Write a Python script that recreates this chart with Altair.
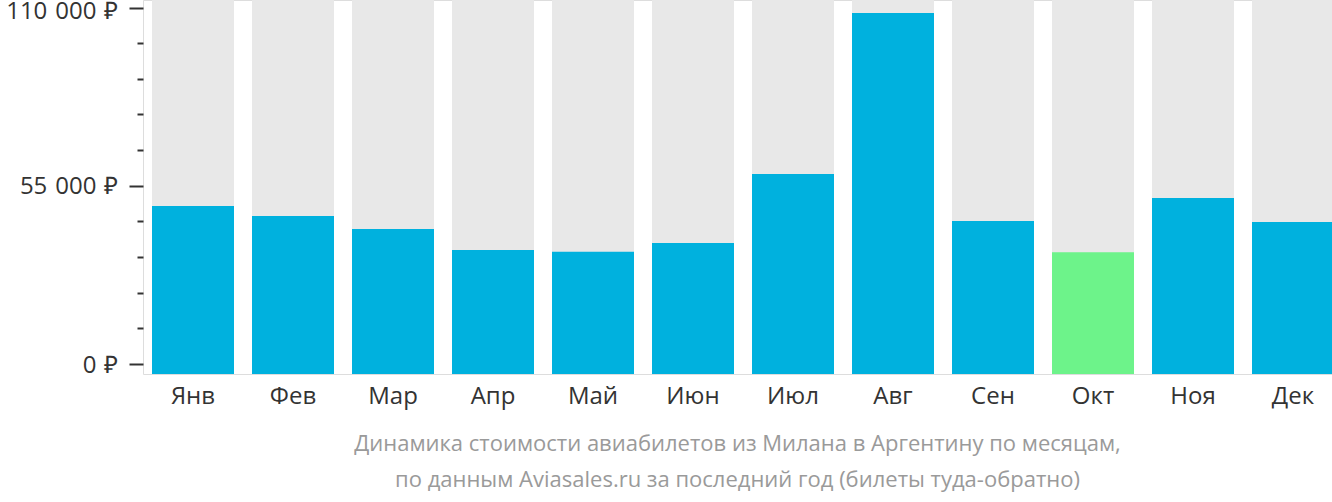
import altair as alt
import pandas as pd

months = ["Янв", "Фев", "Мар", "Апр", "Май", "Июн", "Июл", "Авг", "Сен", "Окт", "Ноя", "Дек"]
prices = [48750, 45650, 41650, 35200, 34600, 37350, 58600, 108300, 44100, 34450, 51200, 43800]
y_ticks = list(range(0, 110001, 11000))
caption = [
    "Динамика стоимости авиабилетов из Милана в Аргентину по месяцам,",
    "по данным Aviasales.ru за последний год (билеты туда-обратно)",
]

df = pd.DataFrame({"month": months, "price": prices})
df["cheapest"] = df["price"] == df["price"].min()

FONT = "Open Sans"
PLOT_H = 374

x_enc = alt.X(
    "month:N",
    sort=months,
    scale=alt.Scale(range=[0, 1200], paddingInner=0.18, paddingOuter=0.09),
    axis=alt.Axis(
        title=None, domain=False, ticks=False, labelAngle=0,
        labelFontSize=24, labelFont=FONT, labelColor="#333333", labelPadding=10,
    ),
)

base = alt.Chart(df)

bg = base.mark_rect(color="#e8e8e8").encode(
    x=x_enc, y=alt.value(0), y2=alt.value(PLOT_H)
)

bars = base.mark_rect().encode(
    x=x_enc,
    y=alt.Y(
        "price:Q",
        scale=alt.Scale(domain=[0, 110000], range=[364, 7.5], nice=False),
        axis=alt.Axis(
            title=None, domain=False, grid=False, values=y_ticks,
            labelExpr="datum.value == 0 ? '0\u2004₽' : (datum.value % 55000 == 0 ? format(datum.value / 1000, 'd') + '\u2004000\u2004₽' : '')",
            labelFontSize=24, labelFont=FONT, labelColor="#333333", labelPadding=11,
            labelOffset={"condition": {"test": "datum.value == 110000", "value": 4}, "value": 1},
            tickColor="#333333", tickWidth=2,
            tickSize={"condition": {"test": "datum.value % 55000 == 0", "value": 14}, "value": 6},
        ),
    ),
    y2=alt.value(PLOT_H),
    color=alt.condition("datum.cheapest", alt.value("#6df38a"), alt.value("#00b1de")),
)

chart = (
    alt.layer(bg, bars)
    .properties(
        width=1189,
        height=PLOT_H,
        autosize=alt.AutoSizeParams(type="none"),
        padding={"left": 143, "top": 0, "right": 0, "bottom": 128},
        title=alt.TitleParams(
            caption, orient="bottom", anchor="middle", fontSize=22, font=FONT,
            fontWeight="normal", color="#9a9a9a", lineHeight=36, offset=26,
        ),
    )
    .configure_view(stroke=None)
    .configure(background="white")
)

chart.save("out.html", embed_options={"renderer": "svg", "actions": False})
